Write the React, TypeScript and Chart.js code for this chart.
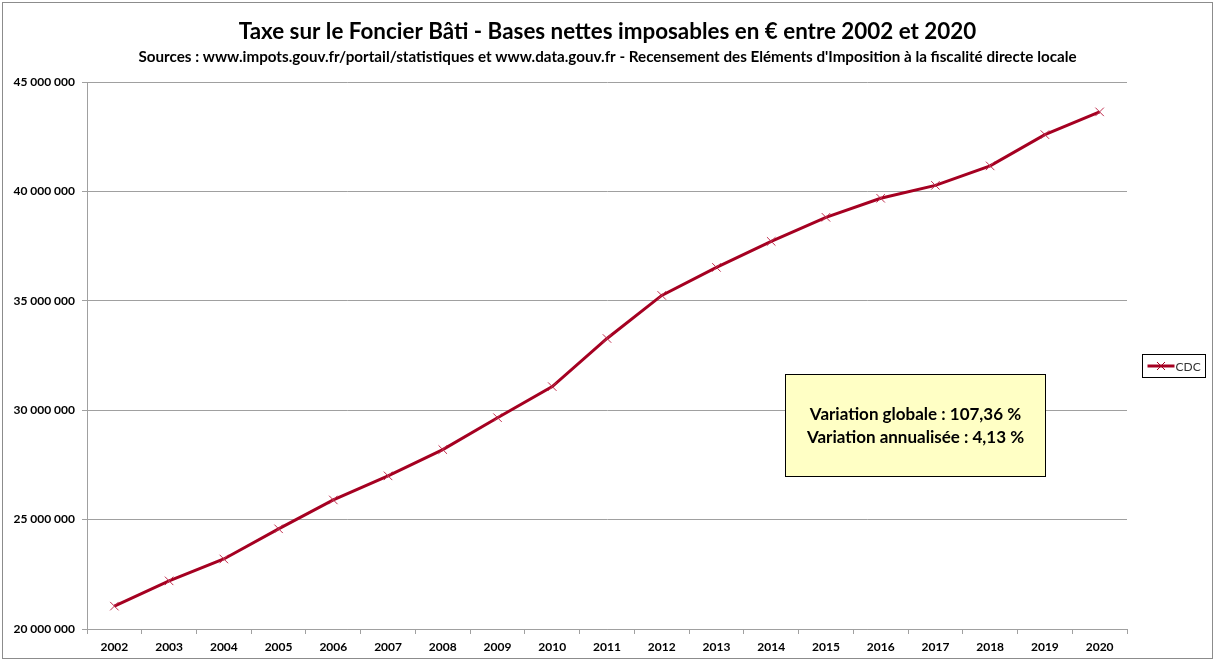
import React, { useEffect, useRef } from "react";
import { Chart, registerables } from "chart.js";

Chart.register(...registerables);

const years = ["2002","2003","2004","2005","2006","2007","2008","2009","2010","2011","2012","2013","2014","2015","2016","2017","2018","2019","2020"];
const cdcValues = [21045000, 22200000, 23200000, 24580000, 25900000, 27000000, 28200000, 29660000, 31080000, 33280000, 35250000, 36530000, 37720000, 38820000, 39690000, 40280000, 41170000, 42600000, 43640000];
const seriesLabel = "CDC";
const titleText = "Taxe sur le Foncier Bâti - Bases nettes imposables en € entre 2002 et 2020";
const subtitleText = "Sources : www.impots.gouv.fr/portail/statistiques et www.data.gouv.fr - Recensement des Eléments d'Imposition à la fiscalité directe locale";
const noteLines = ["Variation globale : 107,36 %", "Variation annualisée : 4,13 %"];

const FONT = "Lato, 'Open Sans', sans-serif";
const LINE_COLOR = "#A50021";

const fmt = (v: number) => String(Math.round(v)).replace(/\B(?=(\d{3})+(?!\d))/g, " ");

const decorPlugin = {
  id: "decor",
  beforeDraw(chart: any) {
    const ctx = chart.ctx;
    ctx.save();
    ctx.fillStyle = "#ffffff";
    ctx.fillRect(0, 0, chart.width, chart.height);
    ctx.strokeStyle = "#8c8c8c";
    ctx.lineWidth = 1;
    ctx.strokeRect(2.5, 2.5, chart.width - 5, chart.height - 6);
    ctx.restore();
  },
  afterDraw(chart: any) {
    const ctx = chart.ctx;
    ctx.save();
    // note box
    const bx = 785.5, by = 374.5, bw = 260, bh = 102;
    ctx.fillStyle = "#FFFFC5";
    ctx.fillRect(bx, by, bw, bh);
    ctx.strokeStyle = "#000000";
    ctx.lineWidth = 1;
    ctx.strokeRect(bx, by, bw, bh);
    ctx.fillStyle = "#000000";
    ctx.font = `bold 17px ${FONT}`;
    ctx.textAlign = "center";
    ctx.textBaseline = "middle";
    ctx.fillText(noteLines[0], bx + bw / 2, 415);
    ctx.fillText(noteLines[1], bx + bw / 2, 438);
    // legend
    const lx = 1142.5, ly = 354.5, lw = 63, lh = 23;
    ctx.strokeStyle = "#000000";
    ctx.strokeRect(lx, ly, lw, lh);
    const ds = chart.data.datasets[0];
    ctx.strokeStyle = LINE_COLOR;
    ctx.lineWidth = 3;
    ctx.beginPath();
    ctx.moveTo(lx + 5, ly + lh / 2);
    ctx.lineTo(lx + 32, ly + lh / 2);
    ctx.stroke();
    ctx.lineWidth = 1;
    const cx = lx + 18.5, cy = ly + lh / 2;
    ctx.beginPath();
    ctx.moveTo(cx - 4, cy - 4); ctx.lineTo(cx + 4, cy + 4);
    ctx.moveTo(cx - 4, cy + 4); ctx.lineTo(cx + 4, cy - 4);
    ctx.stroke();
    ctx.fillStyle = "#333333";
    ctx.font = `12px ${FONT}`;
    ctx.textAlign = "left";
    ctx.fillText(ds.label, lx + 33, cy + 1);
    ctx.restore();
  },
};

export default function App() {
  const ref = useRef<HTMLCanvasElement | null>(null);
  useEffect(() => {
    document.body.style.margin = "0";
    const chart = new Chart(ref.current as HTMLCanvasElement, {
      type: "line",
      data: {
        labels: years,
        datasets: [
          {
            label: seriesLabel,
            data: cdcValues,
            borderColor: LINE_COLOR,
            backgroundColor: LINE_COLOR,
            borderWidth: 3,
            tension: 0,
            pointStyle: "crossRot",
            pointRadius: 6,
            pointBorderWidth: 1,
            pointBorderColor: "#C03050",
          },
        ],
      },
      options: {
        animation: false,
        responsive: false,
        maintainAspectRatio: false,
        layout: { padding: { top: 0, left: 0, right: 0, bottom: 7 } },
        plugins: {
          legend: { display: false },
          tooltip: { enabled: false },
          title: {
            display: true,
            text: titleText,
            color: "#000000",
            font: { family: FONT, size: 22.4, weight: "bold" },
            padding: { top: 18, bottom: 3 },
          },
          subtitle: {
            display: true,
            text: subtitleText,
            color: "#000000",
            font: { family: FONT, size: 15.2, weight: "bold" },
            padding: { top: 0, bottom: 16 },
          },
        },
        scales: {
          x: {
            type: "category",
            offset: true,
            grid: {
              offset: true,
              drawOnChartArea: false,
              drawTicks: true,
              tickLength: 5,
              color: "#a0a0a0",
            },
            border: { color: "#a0a0a0", width: 1 },
            ticks: {
              color: "#000000",
              font: { family: FONT, size: 12, weight: "bold" },
              padding: 6,
              maxRotation: 0,
              autoSkip: false,
            },
            afterFit(scale: any) { scale.height = 26; },
          },
          y: {
            min: 20000000,
            max: 45000000,
            grid: { color: "#a0a0a0", tickLength: 5, lineWidth: 1 },
            border: { color: "#a0a0a0", width: 1 },
            ticks: {
              stepSize: 5000000,
              color: "#000000",
              font: { family: FONT, size: 12, weight: "bold" },
              padding: 7,
              callback: (v: any) => fmt(Number(v)),
            },
            afterFit(scale: any) { scale.width = 87; },
          },
          yRight: {
            position: "right",
            display: true,
            min: 20000000,
            max: 45000000,
            grid: { drawOnChartArea: false, drawTicks: false, display: false },
            border: { display: false },
            ticks: { display: false },
            afterFit(scale: any) { scale.width = 88; },
          },
        },
      },
      plugins: [decorPlugin],
    } as any);
    return () => chart.destroy();
  }, []);
  return (
    <div style={{ position: "absolute", left: 0, top: 0, width: 1215, height: 662 }}>
      <canvas ref={ref} width={1215} height={662} style={{ width: 1215, height: 662 }} />
    </div>
  );
}
